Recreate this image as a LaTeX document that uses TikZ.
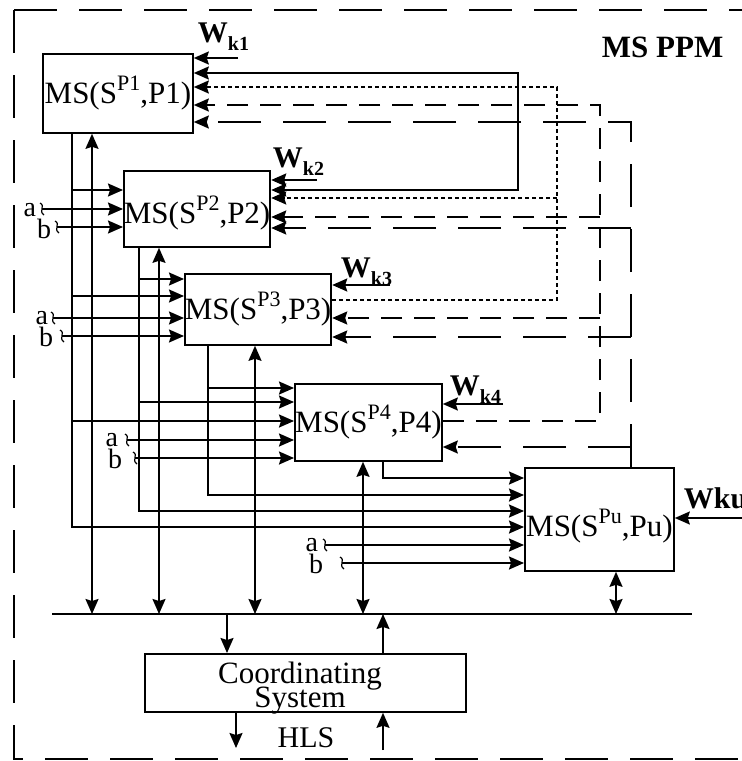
\documentclass[tikz,border=0pt]{standalone}
\usepackage{fontspec}
\setmainfont{Liberation Serif}
\usetikzlibrary{arrows.meta}
\newcommand\supx[1]{\raisebox{13pt}{\fontsize{22}{22}\selectfont #1}}
\newcommand\subx[1]{\raisebox{-8pt}{\fontsize{20}{20}\selectfont\bfseries #1}}
\begin{document}
\begin{tikzpicture}[x=1pt,y=-1pt,
  line width=1.8pt,
  >={Stealth[length=15pt,width=13pt,inset=2pt]},
  box/.style={draw, anchor=north west, inner sep=0pt, font=\fontsize{31}{31}\selectfont},
  lbl/.style={inner sep=0pt, font=\fontsize{30}{30}\selectfont},
  ablbl/.style={inner sep=0pt, anchor=base east, font=\fontsize{28}{28}\selectfont},
  wlbl/.style={inner sep=0pt, anchor=base west, font=\fontsize{30}{30}\selectfont\bfseries},
  framedash/.style={dash pattern=on 43pt off 22pt},
  mdash/.style={dash pattern=on 21pt off 12pt},
  ldash/.style={dash pattern=on 43pt off 22pt},
  dots/.style={dash pattern=on 4pt off 3pt},
  wig/.pic={\draw[line width=1.2pt,solid] (-2,-6) .. controls (4,-3) and (-4,2) .. (2,6);},
]
\useasboundingbox (0,0) rectangle (742,761);
% outer frame
\draw[framedash] (14,10) -- (760,10);
\draw[framedash] (14,10) -- (14,759) -- (760,759);
\node[anchor=base west, inner sep=0pt, font=\fontsize{31}{31}\selectfont\bfseries] (title) at (601,57) {MS PPM};

% boxes
\node[box, minimum width=150pt, minimum height=79pt] (P1) at (42,53) {MS(S\supx{P1},P1)};
\node[box, minimum width=146pt, minimum height=76pt, text height=35pt] (P2) at (123,170) {MS(S\supx{P2},P2)};
\node[box, minimum width=146pt, minimum height=71pt] (P3) at (184,273) {MS(S\supx{P3},P3)};
\node[box, minimum width=147pt, minimum height=77pt] (P4) at (294,383) {MS(S\supx{P4},P4)};
\node[box, minimum width=149pt, minimum height=103pt, text height=41pt] (Pu) at (524,467) {MS(S\supx{Pu},Pu)};
\node[box, minimum width=321pt, minimum height=58pt] (CS) at (144,653) {};
\node[lbl, anchor=base, font=\fontsize{31}{31}\selectfont] (cs1) at (300,683) {Coordinating};
\node[lbl, anchor=base, font=\fontsize{31}{31}\selectfont] (cs2) at (300,707) {System};
\node[lbl, anchor=base] (hls) at (306,747) {HLS};

% output columns
\coordinate (o1) at (72,527);
\coordinate (o2) at (139,511);
\coordinate (o3) at (208,495);
\coordinate (o4) at (383,478);
\draw[->] (o1 |- P1.south) -- (o1) -- (o1 -| Pu.west);
\draw[->] (o2 |- P2.south) -- (o2) -- (o2 -| Pu.west);
\draw[->] (o3 |- P3.south) -- (o3) -- (o3 -| Pu.west);
\draw[->] (o4 |- P4.south) -- (o4) -- (o4 -| Pu.west);
% branches
\coordinate (j12) at (72,190);
\coordinate (j13) at (72,296);
\coordinate (j14) at (72,421);
\coordinate (j23) at (139,279);
\coordinate (j24) at (139,402);
\coordinate (j34) at (208,388);
\draw[->] (j12) -- (j12 -| P2.west);
\draw[->] (j13) -- (j13 -| P3.west);
\draw[->] (j14) -- (j14 -| P4.west);
\draw[->] (j23) -- (j23 -| P3.west);
\draw[->] (j24) -- (j24 -| P4.west);
\draw[->] (j34) -- (j34 -| P4.west);

% a, b inputs
\coordinate (a2) at (42,209);  \coordinate (b2) at (57,227);
\coordinate (a3) at (53,318);  \coordinate (b3) at (62,336);
\coordinate (a4) at (127,440); \coordinate (b4) at (135,458);
\coordinate (au) at (325,545); \coordinate (bu) at (342,563);
\foreach \c/\t in {a2/P2,b2/P2,a3/P3,b3/P3,a4/P4,b4/P4,au/Pu,bu/Pu}{
  \draw[->] (\c) -- (\c -| \t.west);
  \pic at (\c) {wig};
}
\node[ablbl] (la2) at ([shift={(-5,7)}]a2) {a};
\node[ablbl] (lb2) at ([shift={(-5,11)}]b2) {b};
\node[ablbl] (la3) at ([shift={(-4,6)}]a3) {a};
\node[ablbl] (lb3) at ([shift={(-8,10)}]b3) {b};
\node[ablbl] (la4) at ([shift={(-8,6)}]a4) {a};
\node[ablbl] (lb4) at ([shift={(-12,10)}]b4) {b};
\node[ablbl] (lau) at ([shift={(-6,6)}]au) {a};
\node[ablbl] (lbu) at ([shift={(-18,10)}]bu) {b};

% bus
\coordinate (busL) at (52,614);
\coordinate (busR) at (692,614);
\draw (busL) -- (busR);
\coordinate (t1) at (92,614);
\coordinate (t2) at (159,614);
\coordinate (t3) at (255,614);
\coordinate (t4) at (363,614);
\coordinate (tu) at (616,614);
\draw[<->] (t1 |- P1.south) -- (t1);
\draw[<->] (t2 |- P2.south) -- (t2);
\draw[<->] (t3 |- P3.south) -- (t3);
\draw[<->] (t4 |- P4.south) -- (t4);
\draw[<->] (tu |- Pu.south) -- (tu);
\coordinate (t5) at (227,614);
\coordinate (t6) at (383,614);
\draw[->] (t5) -- (t5 |- CS.north);
\draw[->] (t6 |- CS.north) -- (t6);
\coordinate (h1) at (236,748);
\coordinate (h2) at (383,750);
\draw[->] (h1 |- CS.south) -- (h1);
\draw[->] (h2) -- (h2 |- CS.south);

% W inputs
\coordinate (w1) at (238,58);
\coordinate (w2) at (317,180);
\coordinate (w3) at (390,285);
\coordinate (w4) at (503,404);
\coordinate (wu) at (742,518);
\draw[->] (w1) -- (w1 -| P1.east);
\draw[->] (w2) -- (w2 -| P2.east);
\draw[->] (w3) -- (w3 -| P3.east);
\draw[->] (w4) -- (w4 -| P4.east);
\draw[->] (wu) -- (wu -| Pu.east);
\node[wlbl] (Wk1) at (197,42) {W\subx{k1}};
\node[wlbl] (Wk2) at (272,167) {W\subx{k2}};
\node[wlbl] (Wk3) at (340,277) {W\subx{k3}};
\node[wlbl] (Wk4) at (449,395) {W\subx{k4}};
\node[wlbl] (Wku) at (683,508) {Wku};

% solid feedback P1 <-> P2
\coordinate (s1) at (518,73);
\coordinate (s2) at (518,190);
\draw[<->] (s1 -| P1.east) -- (s1) -- (s2) -- (s2 -| P2.east);

% dotted: P3 -> P1, P2
\coordinate (d0) at (557,300);
\coordinate (d1) at (557,87);
\coordinate (d2) at (557,198);
\draw[dots,->] (d0 -| P3.east) -- (d0) -- (d1) -- (d1 -| P1.east);
\draw[dots,->] (d2) -- (d2 -| P2.east);

% medium dashed: P4 -> P1, P2, P3
\coordinate (m0) at (600,421);
\coordinate (m1) at (600,105);
\coordinate (m2) at (600,217);
\coordinate (m3) at (600,318);
\draw[mdash,->] (m0 -| P4.east) -- (m0) -- (m1) -- (m1 -| P1.east);
\draw[mdash,->] (m2) -- (m2 -| P2.east);
\draw[mdash,->] (m3) -- (m3 -| P3.east);

% long dashed: Pu -> P1..P4
\coordinate (l1) at (631,122);
\coordinate (l2) at (631,228);
\coordinate (l3) at (631,337);
\coordinate (l4) at (631,447);
\draw[ldash,->] (l1 |- Pu.north) -- (l1) -- (l1 -| P1.east);
\draw[ldash,->] (l2) -- (l2 -| P2.east);
\draw[ldash,->] (l3) -- (l3 -| P3.east);
\draw[ldash,->] (l4) -- (l4 -| P4.east);
\end{tikzpicture}
\end{document}
